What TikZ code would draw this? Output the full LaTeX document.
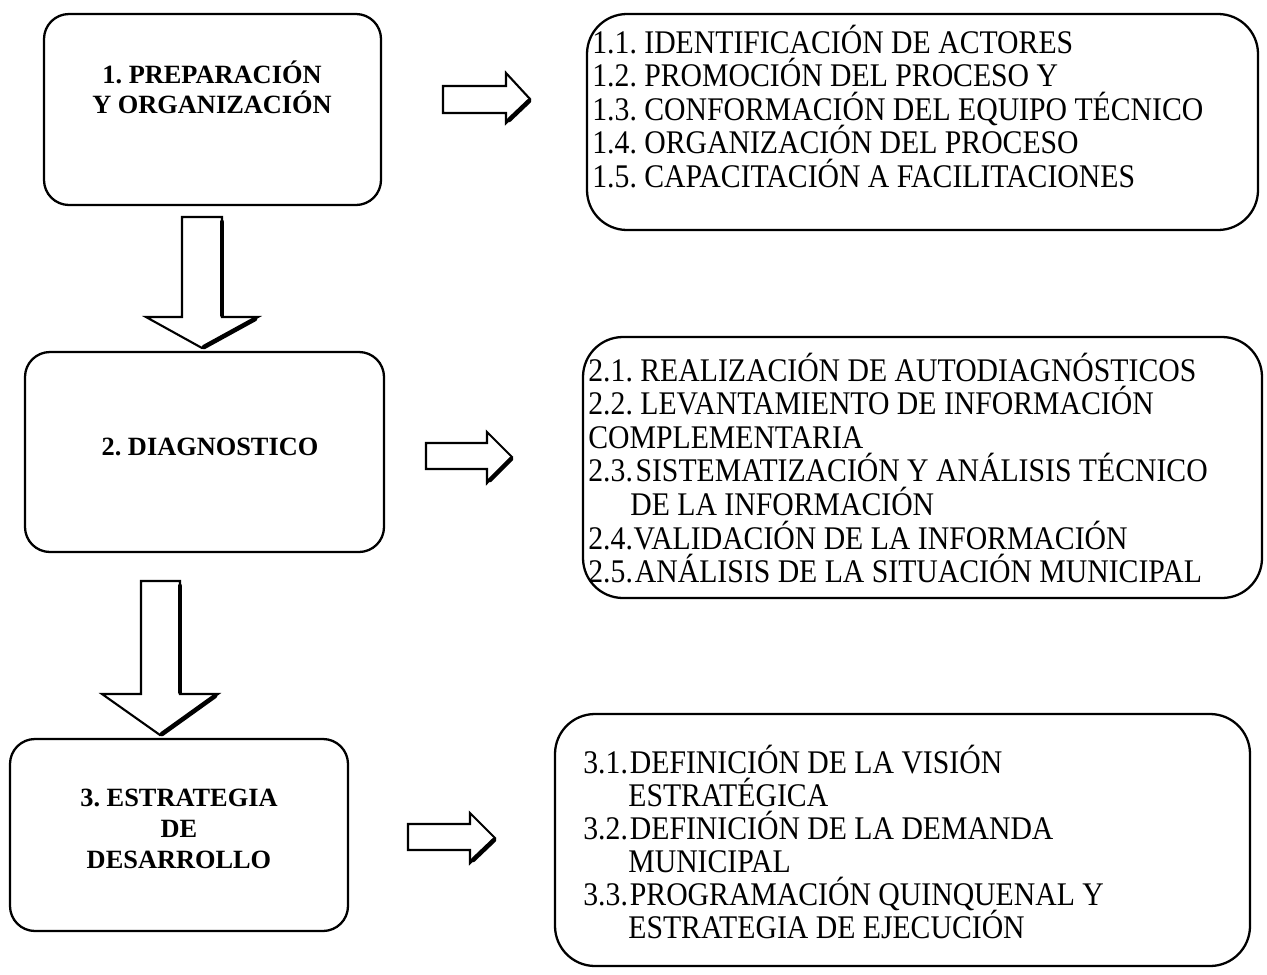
\documentclass[tikz,border=0pt]{standalone}
\usepackage{fontspec}
\setmainfont{Liberation Serif}
\newfontfamily\condfont{Liberation Serif}[FakeStretch=0.9]
\usetikzlibrary{fit}
\frenchspacing
\begin{document}
\begin{tikzpicture}[x=0.02cm,y=-0.02cm,
  lbox/.style={draw, line width=1.3pt, rounded corners=0.5cm, inner sep=0pt},
  rbox/.style={draw, line width=1.3pt, rounded corners=0.8cm, inner sep=0pt},
  ltext/.style={font=\fontsize{15}{17}\selectfont\bfseries, align=center, inner sep=0pt},
  rtext/.style={font=\condfont\fontsize{18.8}{19}\selectfont, anchor=base west, inner sep=0pt},
  barrow/.style={draw, line width=1.2pt, line join=miter, fill=white},
  shadeline/.style={line width=2.6pt, line cap=round}]
\useasboundingbox (0,0) rectangle (1267,974);

% left boxes
\node[lbox, fit={(44,14) (381,205)}] (b1) {};
\node[lbox, fit={(25,352) (384,552)}] (b2) {};
\node[lbox, fit={(10,739) (348,931)}] (b3) {};
\node[ltext] (t1) at (212,87) {1. PREPARACIÓN\\Y ORGANIZACIÓN};
\node[ltext] (t2) at (210,447) {2. DIAGNOSTICO};
\node[ltext, font=\fontsize{15}{17.6}\selectfont\bfseries] (t3) at (179,829) {3. ESTRATEGIA\\DE\\DESARROLLO};

% right boxes
\node[rbox, fit={(587,14) (1258,230)}] (r1) {};
\node[rbox, fit={(583,337) (1262,598)}] (r2) {};
\node[rbox, fit={(555,714) (1250,966)}] (r3) {};

\foreach \dx/\t [count=\i from 0] in {
  0/1.1. IDENTIFICACIÓN DE ACTORES,
  0/1.2. PROMOCIÓN DEL PROCESO Y,
  0/1.3. CONFORMACIÓN DEL EQUIPO TÉCNICO,
  0/1.4. ORGANIZACIÓN DEL PROCESO,
  0/1.5. CAPACITACIÓN A FACILITACIONES}
  \node[rtext] (ra\i) at ({592+\dx},{53+33.5*\i}) {\t};

\foreach \dx/\t [count=\i from 0] in {
  0/2.1. REALIZACIÓN DE AUTODIAGNÓSTICOS,
  0/2.2. LEVANTAMIENTO DE INFORMACIÓN,
  0/COMPLEMENTARIA,
  0/2.3.\hspace{0.08em}SISTEMATIZACIÓN Y ANÁLISIS TÉCNICO,
  42/DE LA INFORMACIÓN,
  0/2.4.\hspace{0.02em}VALIDACIÓN DE LA INFORMACIÓN,
  0/2.5.\hspace{0.06em}ANÁLISIS DE LA SITUACIÓN MUNICIPAL}
  \node[rtext] (rb\i) at ({588+\dx},{381+33.6*\i}) {\t};

\foreach \dx/\t [count=\i from 0] in {
  0/3.1.\hspace{0.06em}DEFINICIÓN DE LA VISIÓN,
  45/ESTRATÉGICA,
  0/3.2.\hspace{0.06em}DEFINICIÓN DE LA DEMANDA,
  45/MUNICIPAL,
  0/3.3.\hspace{0.06em}PROGRAMACIÓN QUINQUENAL Y,
  45/ESTRATEGIA DE EJECUCIÓN}
  \node[rtext] (rc\i) at ({583+\dx},{773+33*\i}) {\t};

% down block arrows
\draw[barrow] (182,217) -- (222,217) -- (222,317) -- (258,317) -- (202,348) -- (146,317) -- (182,317) -- cycle;
\draw[shadeline] (222,222) -- (222,315);
\draw[shadeline] (255,319) -- (204,347);

\draw[barrow] (141,581) -- (180,581) -- (180,694) -- (218,694) -- (160,735) -- (102,694) -- (141,694) -- cycle;
\draw[shadeline] (180,586) -- (180,692);
\draw[shadeline] (215,696) -- (162,734);

% right block arrows
\draw[barrow] (443,86) -- (506,86) -- (506,73) -- (530,99) -- (506,123) -- (506,113) -- (443,113) -- cycle;
\draw[shadeline] (509,120) -- (529,101);

\draw[barrow] (426,443) -- (487,443) -- (487,432) -- (512,457) -- (487,483) -- (487,469) -- (426,469) -- cycle;
\draw[shadeline] (490,480) -- (511,459);

\draw[barrow] (408,824) -- (470,824) -- (470,813) -- (495,838) -- (470,863) -- (470,850) -- (408,850) -- cycle;
\draw[shadeline] (473,860) -- (494,840);
\end{tikzpicture}
\end{document}
